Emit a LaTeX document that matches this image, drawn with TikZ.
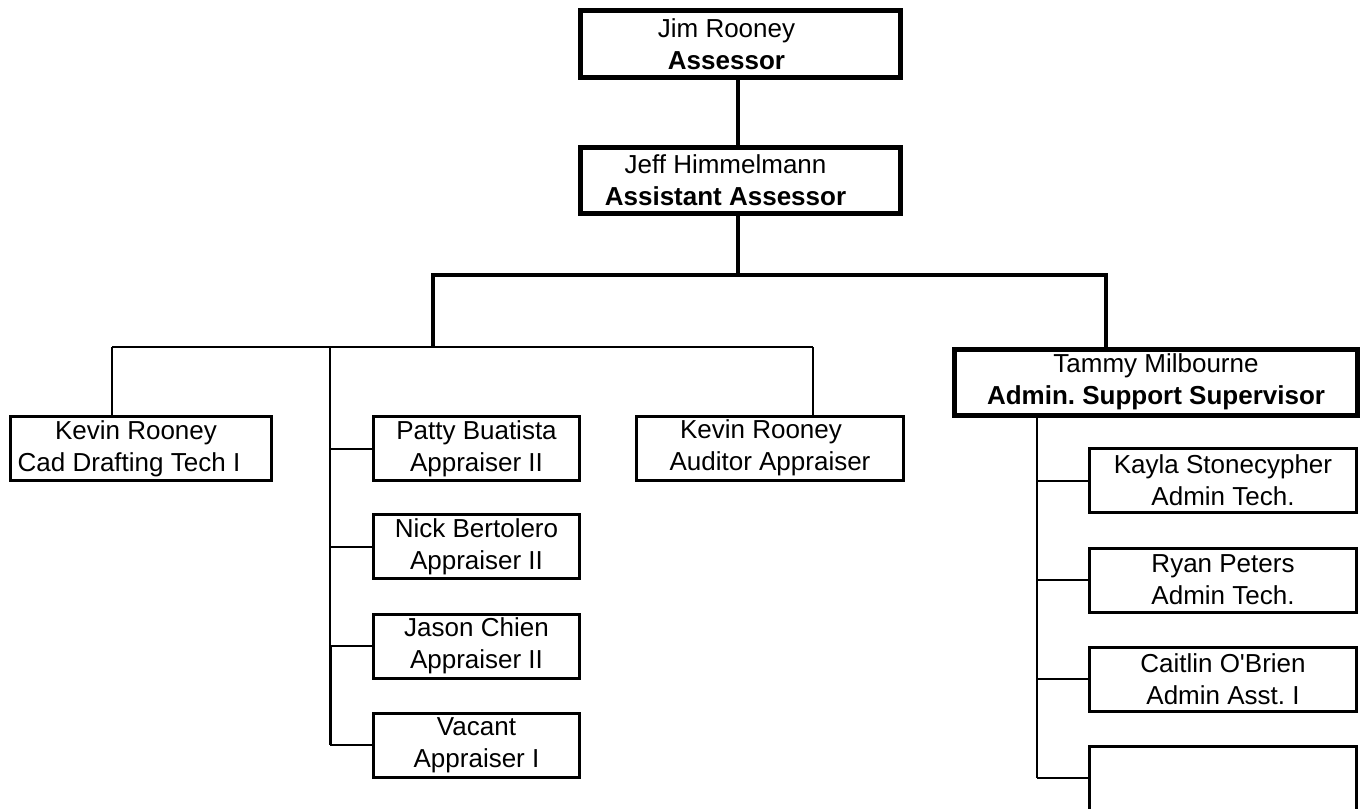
\documentclass[tikz,border=0pt]{standalone}
\usepackage{fontspec}
\setmainfont{Liberation Sans}
\frenchspacing
\begin{document}
\begin{tikzpicture}[x=1pt,y=-1pt,
  every node/.style={inner sep=0pt,align=center,font=\fontsize{26}{32}\selectfont},
  bigbox/.style={draw,line width=5pt,minimum width=320pt,minimum height=66pt},
  subbox/.style={draw,line width=3pt,minimum height=64pt},
  thickln/.style={line width=4pt},
  thinln/.style={line width=2pt}]
\useasboundingbox[fill=white] (0,0) rectangle (1364,808);
% top boxes
\node[bigbox] (jim) at (740.5,44) {Jim Rooney\hspace*{28pt}\\ \textbf{Assessor}\hspace*{28pt}};
\node[bigbox] (jeff) at (740.5,180) {Jeff Himmelmann\hspace*{30pt}\\ \textbf{Assistant Assessor}\hspace*{30pt}};
\node[bigbox,minimum width=403pt] (tammy) at (1156,382) {Tammy Milbourne\\ \textbf{Admin. Support Supervisor}};
% second level
\node[subbox,minimum width=261pt] (kev1) at (141,448.5) {Kevin Rooney\hspace*{10pt}\\ Cad Drafting Tech I\hspace*{24pt}};
\node[subbox,minimum width=206pt] (patty) at (476.5,448.5) {Patty Buatista\\ Appraiser II};
\node[subbox,minimum width=206pt] (nick) at (476.5,546.5) {Nick Bertolero\\ Appraiser II};
\node[subbox,minimum width=206pt] (jason) at (476.5,646) {Jason Chien\\ Appraiser II};
\node[subbox,minimum width=206pt] (vacant) at (476.5,745) {Vacant\\ Appraiser I};
\node[subbox,minimum width=267pt] (kev2) at (770,448) {Kevin Rooney\hspace*{18pt}\\ Auditor Appraiser};
\node[subbox,minimum width=267pt] (kayla) at (1223,480.5) {Kayla Stonecypher\\ Admin Tech.};
\node[subbox,minimum width=267pt] (ryan) at (1223,580) {Ryan Peters\\ Admin Tech.};
\node[subbox,minimum width=267pt] (caitlin) at (1223,679) {Caitlin O\textquotesingle Brien\\ Admin Asst. I};
\node[subbox,minimum width=267pt] (empty) at (1223,778) {};
% junction coordinates
\coordinate (hub) at (738,275);
\coordinate (hl) at (433,275);
\coordinate (hr) at (1106,275);
\coordinate (bl) at (433,347);
\coordinate (b1) at (112,347);
\coordinate (b2) at (813,347);
\coordinate (sp) at (330,348);
\coordinate (tsp) at (1037,415);
% thick connectors
\draw[thickln] (jim.south -| hub) -- (jeff.north -| hub);
\draw[thickln] (jeff.south -| hub) -- (hub);
\draw[thickln,line cap=rect] (hl) -- (hr);
\draw[thickln] (hl) -- (bl);
\draw[thickln] (hr) -- (tammy.north -| hr);
% thin connectors
\draw[thinln] (b1) -- (b2);
\draw[thinln] (b1) -- (kev1.north -| b1);
\draw[thinln] (b2) -- (kev2.north -| b2);
\draw[thinln] (sp) -- (jason.west -| sp);
\draw[line width=3pt] (jason.west -| sp) -- (vacant.west -| sp);
\foreach \n in {patty,nick,jason,vacant} \draw[thinln] (\n.west -| sp) -- (\n.west);
\draw[thinln] (tsp) -- (empty.west -| tsp);
\foreach \n in {kayla,ryan,caitlin,empty} \draw[thinln] (\n.west -| tsp) -- (\n.west);
\end{tikzpicture}
\end{document}
